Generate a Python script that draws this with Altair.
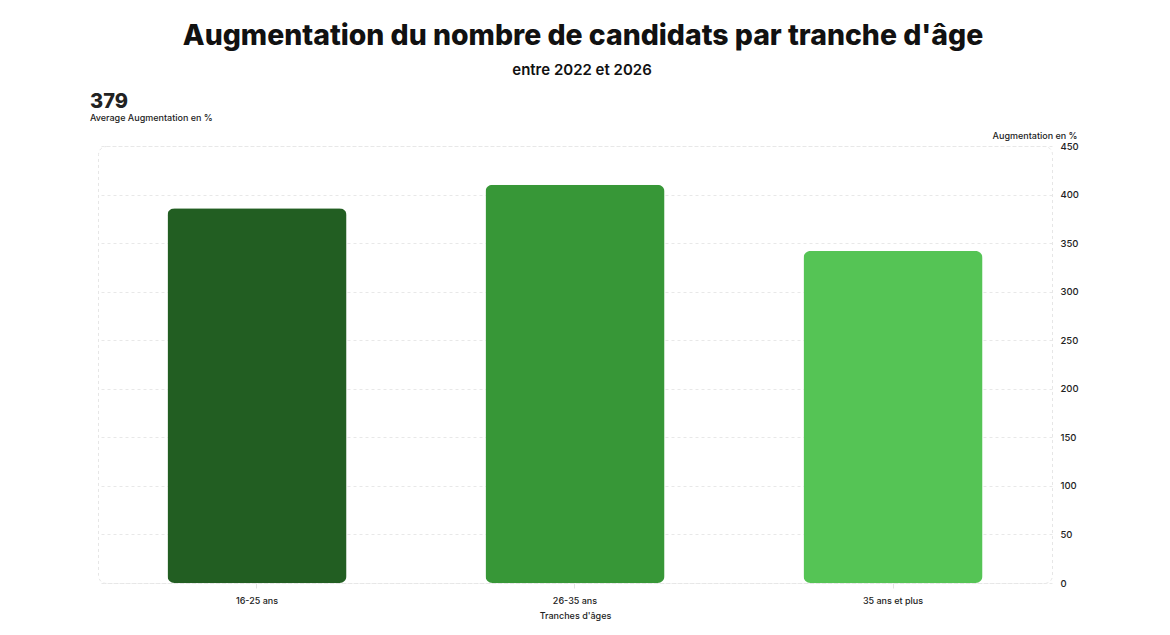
import altair as alt
import pandas as pd

categories = ["16-25 ans", "26-35 ans", "35 ans et plus"]
values = [386, 410, 342]
colors = ["#225E22", "#379737", "#55C455"]
y_ticks = [0, 50, 100, 150, 200, 250, 300, 350, 400, 450]

df = pd.DataFrame({"cat": categories, "val": values, "color": colors})

W, H = 954, 437
FONT = "Inter"

base = alt.Chart(df)

bars = base.mark_bar(cornerRadius=7).encode(
    x=alt.X("cat:N", sort=categories,
            scale=alt.Scale(paddingInner=0.437, paddingOuter=0.2185),
            axis=alt.Axis(title="Tranches d'âges", labelAngle=0, labelFontSize=9,
                          labelFontWeight=500, labelColor="#222", labelPadding=8,
                          tickSize=5, tickColor="#e3e3e3", domain=False,
                          titleFontSize=9, titleFontWeight=500, titleColor="#222",
                          titlePadding=6, grid=False)),
    y=alt.Y("val:Q", scale=alt.Scale(domain=[0, 450], nice=False),
            axis=alt.Axis(orient="right", values=y_ticks, title="Augmentation en %",
                          titleAngle=0, titleX=25, titleY=-8, titleAlign="right",
                          titleBaseline="alphabetic", titleFontSize=9,
                          titleFontWeight=500, titleColor="#222",
                          labelFontSize=9.5, labelFontWeight=500, labelColor="#222",
                          labelPadding=8, tickSize=0, domain=False, grid=True,
                          gridColor="#e8e8e8", gridDash=[3, 3])),
    color=alt.Color("color:N", scale=None),
)

title = alt.Chart(pd.DataFrame({"t": ["Augmentation du nombre de candidats par tranche d'âge"]})).mark_text(
    font=FONT, fontSize=28.4, fontWeight=800, color="#111", align="center", baseline="alphabetic"
).encode(text="t:N", x=alt.value(485), y=alt.value(-101))

subtitle = alt.Chart(pd.DataFrame({"t": ["entre 2022 et 2026"]})).mark_text(
    font=FONT, fontSize=15, fontWeight=600, color="#111", align="center", baseline="alphabetic"
).encode(text="t:N", x=alt.value(484), y=alt.value(-71))

avg = base.transform_aggregate(m="mean(val)").transform_calculate(
    lbl="format(datum.m, '.0f')"
).mark_text(font=FONT, fontSize=20, fontWeight=800, color="#222", align="left",
            baseline="alphabetic").encode(text="lbl:N", x=alt.value(-8), y=alt.value(-38))

avg_lbl = alt.Chart(pd.DataFrame({"t": ["Average Augmentation en %"]})).mark_text(
    font=FONT, fontSize=9, fontWeight=500, color="#222", align="left", baseline="alphabetic"
).encode(text="t:N", x=alt.value(-8), y=alt.value(-25))

chart = alt.layer(bars, title, subtitle, avg, avg_lbl).properties(
    width=W, height=H,
    autosize=alt.AutoSizeParams(type="none"),
    padding={"left": 90, "top": 138, "right": 110, "bottom": 40},
).configure(font=FONT).configure_view(
    stroke="#e6e6e6", strokeDash=[3, 3], cornerRadius=8
)

chart.save("out.html", embed_options={"renderer": "svg", "actions": False})
